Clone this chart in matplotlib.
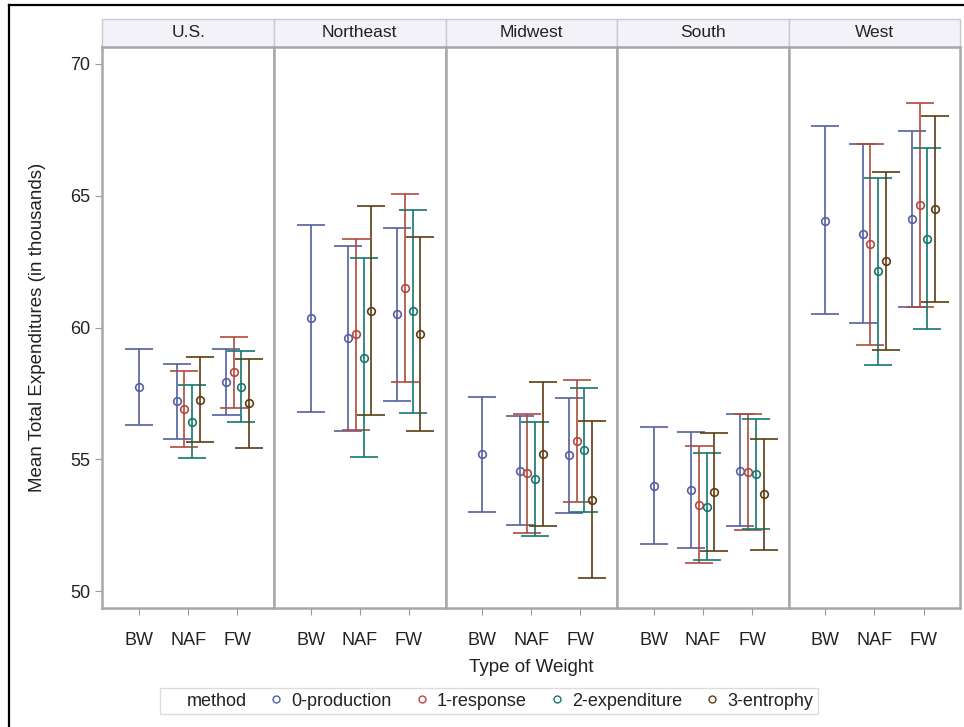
import matplotlib.pyplot as plt
from matplotlib.lines import Line2D
from matplotlib.patches import Rectangle

plt.rcParams['font.family'] = ['Liberation Sans', 'DejaVu Sans']

regions = ["U.S.", "Northeast", "Midwest", "South", "West"]
weights = ["BW", "NAF", "FW"]
methods = ["0-production", "1-response", "2-expenditure", "3-entrophy"]
colors = ["#5560a0", "#b04a40", "#15776d", "#5e3b10"]

# BW: only the 0-production estimate, one per region
bw_mean = [57.73, 60.35, 55.20, 54.00, 64.05]
bw_low = [56.30, 56.81, 53.02, 51.81, 60.50]
bw_high = [59.19, 63.89, 57.37, 56.23, 67.62]

# NAF and FW: one row per region, one column per method
naf_mean = [[57.21, 56.90, 56.43, 57.27],
            [59.59, 59.77, 58.84, 60.63],
            [54.56, 54.48, 54.26, 55.20],
            [53.85, 53.29, 53.20, 53.78],
            [63.55, 63.18, 62.14, 62.52]]
naf_low = [[55.77, 55.47, 55.07, 55.65],
           [56.08, 56.11, 55.10, 56.70],
           [52.50, 52.22, 52.08, 52.46],
           [51.65, 51.09, 51.18, 51.53],
           [60.16, 59.33, 58.59, 59.15]]
naf_high = [[58.61, 58.34, 57.83, 58.88],
            [63.10, 63.36, 62.63, 64.59],
            [56.64, 56.73, 56.41, 57.94],
            [56.05, 55.51, 55.26, 56.01],
            [66.94, 66.97, 65.66, 65.89]]

fw_mean = [[57.92, 58.31, 57.76, 57.13],
           [60.50, 61.50, 60.61, 59.76],
           [55.15, 55.70, 55.36, 53.48],
           [54.58, 54.53, 54.44, 53.68],
           [64.11, 64.65, 63.35, 64.49]]
fw_low = [[56.67, 56.96, 56.43, 55.42],
          [57.21, 57.94, 56.77, 56.08],
          [52.96, 53.38, 53.02, 50.49],
          [52.46, 52.34, 52.37, 51.56],
          [60.78, 60.78, 59.93, 60.96]]
fw_high = [[59.19, 59.64, 59.11, 58.81],
           [63.79, 65.07, 64.44, 63.42],
           [57.33, 58.02, 57.71, 56.47],
           [56.72, 56.72, 56.52, 55.79],
           [67.44, 68.52, 66.79, 68.03]]

offsets = [-0.234, -0.078, 0.078, 0.234]
spine_col = "#a8a8a8"
text_col = "#222222"

fig = plt.figure(figsize=(9.64, 7.27), dpi=100)
axes = fig.subplots(1, 5, sharey=True)
fig.subplots_adjust(left=0.1063, right=0.9959, top=0.936, bottom=0.1637, wspace=0)

err_kw = dict(fmt="o", markersize=5.5, markerfacecolor="none", markeredgewidth=1.2,
              elinewidth=1.2, capsize=10, capthick=1.2)

for i, ax in enumerate(axes):
    # BW
    m = bw_mean[i]
    ax.errorbar([0], [m], yerr=[[m - bw_low[i]], [bw_high[i] - m]],
                color=colors[0], **err_kw)
    # NAF and FW, clustered by method
    for xpos, mean, low, high in [(1, naf_mean, naf_low, naf_high),
                                  (2, fw_mean, fw_low, fw_high)]:
        for j in range(4):
            v = mean[i][j]
            ax.errorbar([xpos + offsets[j]], [v],
                        yerr=[[v - low[i][j]], [high[i][j] - v]],
                        color=colors[j], **err_kw)

    ax.set_xlim(-0.742, 2.742)
    ax.set_ylim(49.37, 70.65)
    ax.set_xticks([0, 1, 2])
    ax.set_xticklabels(weights)
    ax.set_yticks([50, 55, 60, 65, 70])
    ax.tick_params(axis="x", length=5, color="#999999", labelsize=13,
                   labelcolor=text_col, pad=12)
    ax.tick_params(axis="y", length=5, color="#999999", labelsize=13,
                   labelcolor=text_col, pad=4)
    if i > 0:
        ax.tick_params(axis="y", left=False)
    for sp in ax.spines.values():
        sp.set_color(spine_col)
        sp.set_linewidth(1.8)

    # header strip with the region name
    h = 0.049
    ax.add_patch(Rectangle((0, 1), 1, h, transform=ax.transAxes, clip_on=False,
                           facecolor="#f2f2f8", edgecolor="#c8c8d2", linewidth=1.0))
    ax.text(0.5, 1 + h / 2, regions[i], transform=ax.transAxes, ha="center",
            va="center", fontsize=12.5, color=text_col)

fig.text(38 / 964, 1 - 327 / 727, "Mean Total Expenditures (in thousands)",
         rotation=90, ha="center", va="center", fontsize=13.5, color=text_col)
fig.text(531 / 964, 1 - 668 / 727, "Type of Weight", ha="center", va="center",
         fontsize=13.5, color=text_col)

# legend: group title followed by the four methods
handles = [Line2D([], [], linestyle="none")]
for c in colors:
    handles.append(Line2D([], [], linestyle="none", marker="o", markersize=5,
                          markerfacecolor="none", markeredgecolor=c,
                          markeredgewidth=1.0))
leg = fig.legend(handles, ["method"] + methods, loc="center",
                 bbox_to_anchor=(489 / 964, 1 - 701 / 727), ncol=5,
                 frameon=True, fancybox=False, edgecolor="#d4d4d4",
                 handlelength=0.7, handletextpad=0.5, columnspacing=1.3,
                 fontsize=13, borderpad=0.25)
for t in leg.get_texts():
    t.set_color(text_col)

# outer frame lines
fig.add_artist(Line2D([9 / 964, 9 / 964], [0, 1 - 5 / 727], color="black",
                      linewidth=1.6, transform=fig.transFigure))
fig.add_artist(Line2D([9 / 964, 1], [1 - 5 / 727, 1 - 5 / 727], color="black",
                      linewidth=1.6, transform=fig.transFigure))

fig.savefig("out.png", dpi=100)
